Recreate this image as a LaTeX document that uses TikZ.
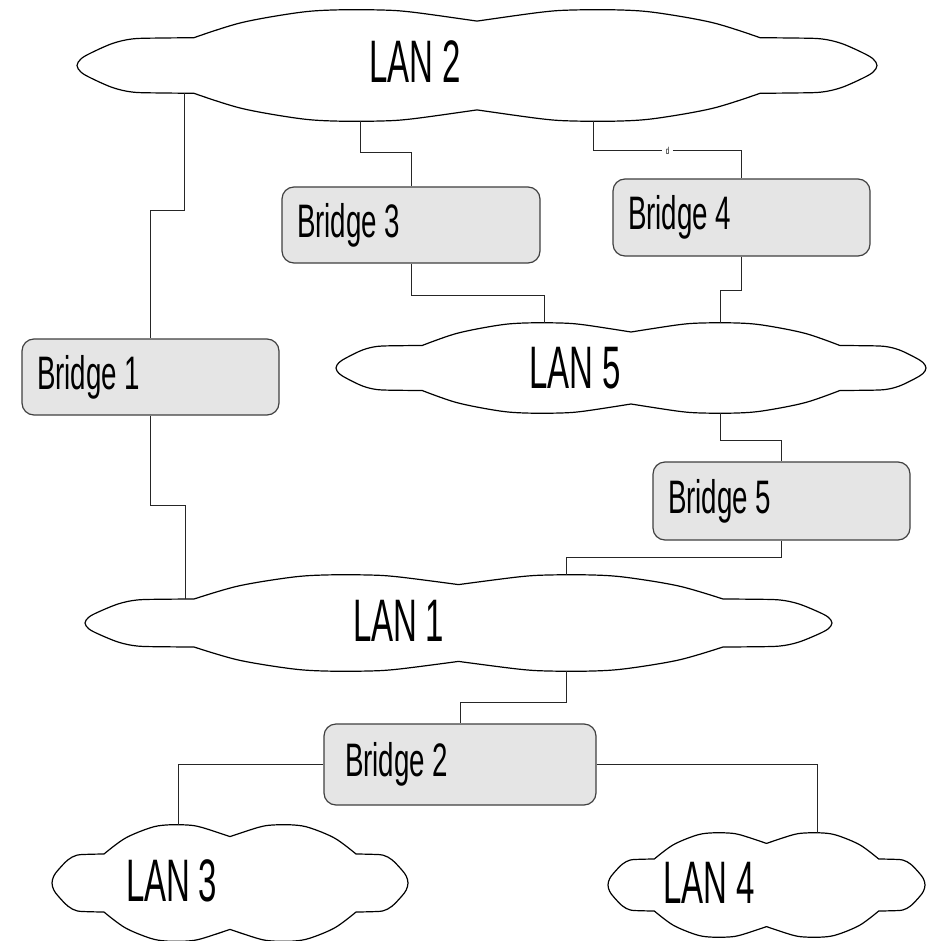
\documentclass[tikz,border=0pt]{standalone}
\usepackage{fontspec}
\newfontfamily\lanfont[FakeStretch=0.55,WordSpace=0.9]{Liberation Sans}
\newfontfamily\brfont[FakeStretch=0.59]{Liberation Sans}
\newfontfamily\smfont[FakeStretch=0.6]{Liberation Sans}
\usetikzlibrary{calc}
\newcommand\brtext[2][227pt]{\makebox[#1][l]{#2}}
\newcommand\lancloud[5]{%
 \begin{scope}[shift={(#1,#2)},xscale=#3,yscale=#4]
  \draw[cloudline] plot[smooth,tension=.55] coordinates {(0.146,-0.50) (0.205,-0.77) (0.275,-0.95) (0.32,-1.0) (0.38,-1.0) (0.42,-0.96) (0.5,-0.80)}
   -- plot[smooth,tension=.55] coordinates {(0.5,-0.80) (0.58,-0.96) (0.62,-1.0) (0.68,-1.0) (0.725,-0.95) (0.795,-0.77) (0.854,-0.50)}
   -- plot[smooth,tension=.55] coordinates {(0.854,-0.50) (0.895,-0.495) (0.93,-0.48) (0.955,-0.40) (0.982,-0.23) (0.995,-0.12) (1,0) (0.995,0.12) (0.982,0.23) (0.955,0.40) (0.93,0.48) (0.895,0.495) (0.854,0.50)}
   -- plot[smooth,tension=.55] coordinates {(0.854,0.50) (0.795,0.77) (0.725,0.95) (0.68,1.0) (0.62,1.0) (0.58,0.96) (0.5,0.80)}
   -- plot[smooth,tension=.55] coordinates {(0.5,0.80) (0.42,0.96) (0.38,1.0) (0.32,1.0) (0.275,0.95) (0.205,0.77) (0.146,0.50)}
   -- plot[smooth,tension=.55] coordinates {(0.146,0.50) (0.105,0.495) (0.07,0.48) (0.045,0.40) (0.018,0.23) (0.005,0.12) (0,0) (0.005,-0.12) (0.018,-0.23) (0.045,-0.40) (0.07,-0.48) (0.105,-0.495) (0.146,-0.50)}
   -- cycle;
  #5
 \end{scope}}
\tikzset{
 conn/.style={draw=black!85, line width=1pt},
 cloudline/.style={draw=black, line width=1.2pt, fill=white, line join=round},
 bridgebox/.style={draw=black!75, fill=black!10, line width=1.2pt, rounded corners=12pt,
   minimum height=77pt, inner xsep=15pt, inner ysep=0pt,
   font={\brfont\fontsize{47}{50}\selectfont}},
 lantext/.style={inner sep=0pt, font={\lanfont\fontsize{60}{60}\selectfont}},
 dlabel/.style={fill=white, inner xsep=3.5pt, inner ysep=1pt, font={\smfont\fontsize{10}{10}\selectfont}}
}
\begin{document}
\begin{tikzpicture}[x=1pt,y=-1pt]
\fill[white] (0,0) rectangle (934,941);
\useasboundingbox (0,0) rectangle (934,941);

% clouds
\lancloud{77}{65.5}{800}{55.5}{
  \coordinate (lan2-b1) at (0.135,0.5);
  \coordinate (lan2-b3) at (0.354,1.0);
  \coordinate (lan2-b4) at (0.646,1.0);}
\lancloud{336}{368}{590}{45}{
  \coordinate (lan5-b3) at (0.354,-1.0);
  \coordinate (lan5-b4) at (0.651,-1.0);
  \coordinate (lan5-b5) at (0.651,1.0);}
\lancloud{85}{623}{747}{48}{
  \coordinate (lan1-b1) at (0.134,-0.5);
  \coordinate (lan1-b5) at (0.645,-1.0);
  \coordinate (lan1-b2) at (0.645,1.0);}
\lancloud{52}{883}{356}{58}{
  \coordinate (lan3-b2) at (0.354,-1.0);}
\lancloud{608}{885}{317}{52}{
  \coordinate (lan4-b2) at (0.662,-1.0);}

\node[lantext] (lan2) at (415,62) {LAN 2};
\node[lantext] (lan5) at (575,368) {LAN 5};
\node[lantext] (lan1) at (398.5,620.5) {LAN 1};
\node[lantext] (lan3) at (171.5,880.5) {LAN 3};
\node[lantext] (lan4) at (709,883) {LAN 4};

% bridges
\node[bridgebox, minimum height=76pt] (b1) at (150.5,377) {\brtext{Bridge 1}};
\node[bridgebox, minimum height=76pt] (b3) at (411,225) {\brtext[228pt]{Bridge 3}};
\node[bridgebox] (b4) at (741.5,217.5) {\brtext{Bridge 4}};
\node[bridgebox, minimum height=78pt] (b5) at (781.5,501) {\brtext{Bridge 5}};
\node[bridgebox, minimum height=81pt, inner xsep=21pt] (b2) at (460,764.5) {\brtext[230pt]{Bridge 2}};

\node[dlabel] (dlab) at (667.5,151) {d};

% connectors
\draw[conn] (lan2-b1) -- ++(0,117) -| (b1.north);
\draw[conn] (lan2-b3) -- ++(0,32) -| (b3.north);
\draw[conn] (lan2-b4) |- (dlab.west);
\draw[conn] (dlab.east) -| (b4.north);
\draw[conn] (b3.south) -- ++(0,32) -| (lan5-b3);
\draw[conn] (b4.south) -- ++(0,34) -| (lan5-b4);
\draw[conn] (lan5-b5) -- ++(0,27) -| (b5.north);
\draw[conn] (b1.south) -- ++(0,90) -| (lan1-b1);
\draw[conn] (b5.south) -- ++(0,17) -| (lan1-b5);
\draw[conn] (lan1-b2) -- ++(0,31) -| (b2.north);
\draw[conn] (b2.west) -| (lan3-b2);
\draw[conn] (b2.east) -| (lan4-b2);
\end{tikzpicture}
\end{document}
